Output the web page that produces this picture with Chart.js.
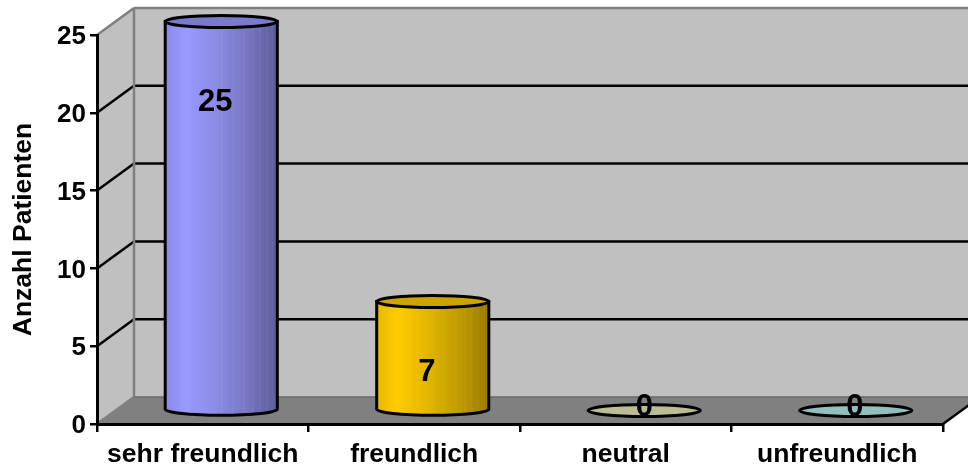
<!DOCTYPE html>
<html>
<head>
<meta charset="utf-8">
<title>Anzahl Patienten</title>
<script src="https://cdn.jsdelivr.net/npm/chart.js@4"></script>
<style>
  html, body { margin: 0; padding: 0; background: #fff; }
  canvas { display: block; }
</style>
</head>
<body>
<canvas id="chart" width="968" height="470"></canvas>
<script>
// Chart data
const categories = ['sehr freundlich', 'freundlich', 'neutral', 'unfreundlich'];
const patientCounts = [25, 7, 0, 0];
const yTickValues = [0, 5, 10, 15, 20, 25];

// Cylinder colours, one per category
const bodyStops = [
  ['#8a8aec', '#9999ff', '#8c8ce6', '#7474c0', '#5c5c9c'],
  ['#e6b800', '#ffcc00', '#e3b600', '#bf9900', '#997a00'],
  ['#a9a985', '#bcbc94', '#a9a985', '#8e8e70', '#72725a'],
  ['#84abab', '#93bebe', '#84abab', '#6f9090', '#597373']
];
const topColors = ['#7a7acc', '#cca300', '#bcbc94', '#93bebe'];
// Faint vertical bands on the cylinder bodies
const stripeSpots = [0.2, 0.5, 0.6, 0.7, 0.78, 0.84, 0.9, 0.95];

// Depth of the fake 3D box, and how far the bars sit inside it
const boxDepth = { x: 37, y: -27 };
const barDepth = { x: 18.5, y: -13.5 };
const labelOffsets = [{ x: -6, y: 81 }, { x: -6, y: 71 }, { x: 0, y: -3 }, { x: -1, y: -3 }];

const boldFont = size => ({ family: '"Liberation Sans", Arial, sans-serif', size: size, weight: 'bold' });

function polygon(ctx, pts) {
  ctx.beginPath();
  pts.forEach((p, i) => i ? ctx.lineTo(p[0], p[1]) : ctx.moveTo(p[0], p[1]));
  ctx.closePath();
}

function line(ctx, x1, y1, x2, y2, color, width) {
  ctx.strokeStyle = color;
  ctx.lineWidth = width;
  ctx.beginPath();
  ctx.moveTo(x1, y1);
  ctx.lineTo(x2, y2);
  ctx.stroke();
}

// Walls, floor and grid lines behind the axes
const boxPlugin = {
  id: 'box',
  beforeDraw(chart) {
    const { ctx, chartArea: a, scales } = chart;
    const dx = boxDepth.x, dy = boxDepth.y;
    ctx.save();
    ctx.fillStyle = '#c0c0c0';
    polygon(ctx, [[a.left + dx, a.top + dy], [a.right + dx, a.top + dy], [a.right + dx, a.bottom + dy], [a.left + dx, a.bottom + dy]]);
    ctx.fill();
    polygon(ctx, [[a.left, a.top], [a.left + dx, a.top + dy], [a.left + dx, a.bottom + dy], [a.left, a.bottom]]);
    ctx.fill();
    ctx.fillStyle = '#808080';
    polygon(ctx, [[a.left, a.bottom], [a.left + dx, a.bottom + dy], [a.right + dx, a.bottom + dy], [a.right, a.bottom]]);
    ctx.fill();

    yTickValues.slice(1, -1).forEach(v => {
      const y = scales.y.getPixelForValue(v);
      line(ctx, a.left, y, a.left + dx, y + dy, '#000', 2.5);
      line(ctx, a.left + dx, y + dy, a.right + dx, y + dy, '#000', 2.5);
    });

    line(ctx, a.left + dx, a.top + dy, a.right + dx, a.top + dy, '#808080', 2.5);
    line(ctx, a.left + dx, a.top + dy, a.left + dx, a.bottom + dy, '#808080', 2.5);
    line(ctx, a.left, a.top, a.left + dx, a.top + dy, '#808080', 2.5);
    line(ctx, a.left, a.bottom, a.left + dx, a.bottom + dy, '#808080', 2.5);
    line(ctx, a.left + dx, a.bottom + dy, a.right + dx, a.bottom + dy, '#696969', 1.5);
    line(ctx, a.right, a.bottom, a.right + dx, a.bottom + dy, '#000', 2.5);
    ctx.restore();
  },
  // bars live in the middle of the box, so shift the whole dataset draw
  beforeDatasetDraw(chart) {
    chart.ctx.save();
    chart.ctx.translate(barDepth.x, barDepth.y);
  },
  afterDatasetDraw(chart, args) {
    const ctx = chart.ctx;
    args.meta.data.forEach((bar, i) => {
      const rx = bar.width / 2, ry = 6;
      const left = bar.x - rx, right = bar.x + rx;
      ctx.lineWidth = 3;
      ctx.strokeStyle = '#000';
      if (patientCounts[i] > 0) {
        const grad = ctx.createLinearGradient(left, 0, right, 0);
        [0, 0.18, 0.45, 0.75, 1].forEach((pos, k) => grad.addColorStop(pos, bodyStops[i][k]));
        ctx.fillStyle = grad;
        ctx.beginPath();
        ctx.moveTo(left, bar.y);
        ctx.lineTo(left, bar.base);
        ctx.ellipse(bar.x, bar.base, rx, ry, 0, Math.PI, 0, true);
        ctx.lineTo(right, bar.y);
        ctx.closePath();
        ctx.fill();

        ctx.save();
        ctx.clip();
        ctx.fillStyle = 'rgba(255, 255, 255, 0.07)';
        stripeSpots.forEach(s => ctx.fillRect(Math.round(left + s * bar.width), bar.y, 1, bar.base - bar.y + ry));
        ctx.restore();
        ctx.stroke();
      }
      ctx.fillStyle = topColors[i];
      ctx.beginPath();
      ctx.ellipse(bar.x, bar.y, rx, ry, 0, 0, Math.PI * 2);
      ctx.fill();
      ctx.stroke();

      ctx.fillStyle = '#000';
      ctx.font = 'bold 31px "Liberation Sans", Arial, sans-serif';
      ctx.textAlign = 'center';
      ctx.textBaseline = 'middle';
      ctx.fillText(patientCounts[i], bar.x + labelOffsets[i].x, bar.y + labelOffsets[i].y);
    });
    ctx.restore();
  }
};

new Chart(document.getElementById('chart').getContext('2d'), {
  type: 'bar',
  data: {
    labels: categories,
    datasets: [{
      label: 'Anzahl Patienten',
      data: patientCounts,
      backgroundColor: topColors,
      borderWidth: 0,
      categoryPercentage: 0.53,
      barPercentage: 1,
      clip: false
    }]
  },
  options: {
    responsive: false,
    animation: false,
    layout: { padding: { top: 35, right: 25, left: 0, bottom: 0 } },
    plugins: {
      legend: { display: false },
      tooltip: { enabled: false }
    },
    scales: {
      x: {
        afterFit: s => { s.height = 46; },
        grid: { drawOnChartArea: false, offset: true, color: '#000', lineWidth: 2.5, tickLength: 8 },
        border: { color: '#000', width: 3 },
        ticks: { color: '#000', font: boldFont(26.5), padding: 7, maxRotation: 0 }
      },
      y: {
        min: 0,
        max: 25,
        afterFit: s => { s.width = 97; },
        afterBuildTicks: s => { s.ticks = yTickValues.map(v => ({ value: v })); },
        grid: { drawOnChartArea: false, color: '#000', lineWidth: 2.5, tickLength: 7 },
        border: { color: '#000', width: 3 },
        ticks: { color: '#000', font: boldFont(26), padding: 4, labelOffset: 2 },
        title: {
          display: true,
          text: 'Anzahl Patienten',
          color: '#000',
          font: boldFont(26.5),
          padding: { top: 8, bottom: 0 }
        }
      }
    }
  },
  plugins: [boxPlugin]
});
</script>
</body>
</html>
